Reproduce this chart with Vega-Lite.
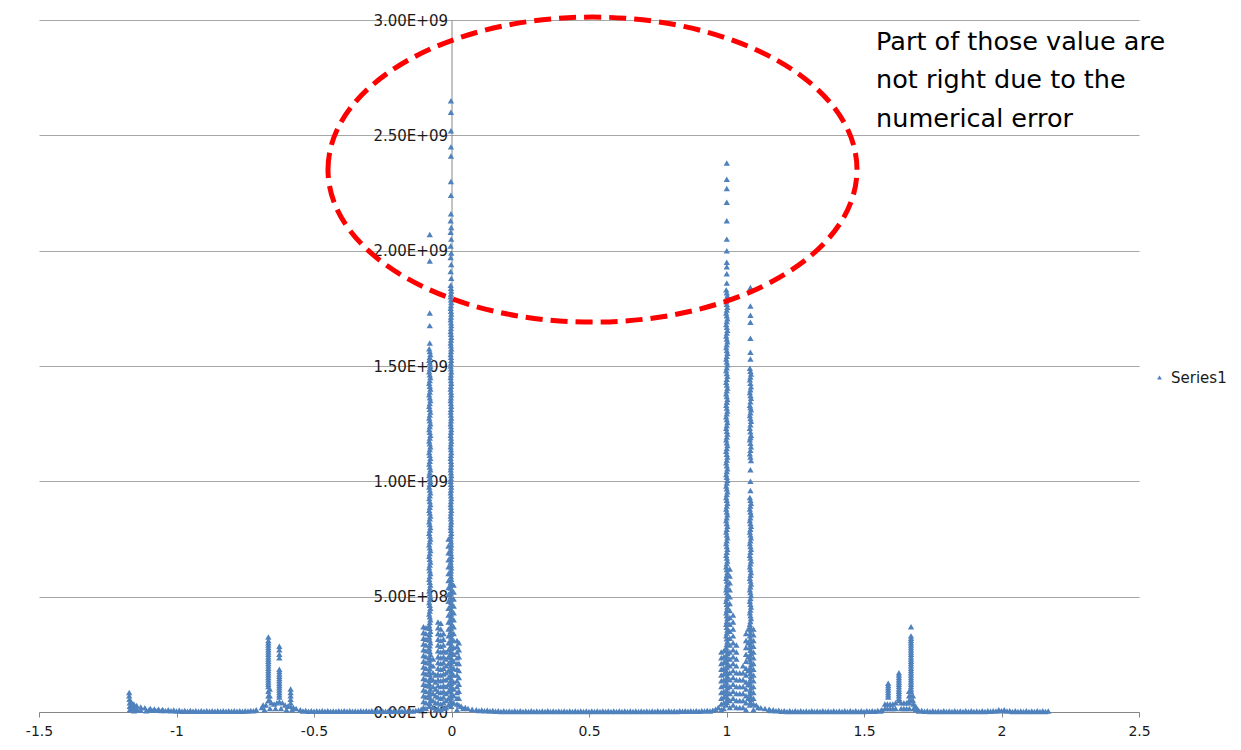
{
"$schema":"https://vega.github.io/schema/vega-lite/v6.json",
"width":1100,"height":692,
"autosize":"none",
"padding":{"left":39,"top":20,"right":102,"bottom":38},
"background":"white",
"config":{"font":"DejaVu Sans","view":{"stroke":null}},
"layer":[
{
"data":{"values":[
{"x":-1.172,"y":8.5e7},{"x":-1.172,"y":7e7},{"x":-1.171,"y":5.5e7},{"x":-1.17,"y":4e7},{"x":-1.17,"y":2.5e7},{"x":-1.17,"y":1e7},
{"x":-1.165,"y":4.5e7},{"x":-1.164,"y":3e7},{"x":-1.163,"y":1.5e7},{"x":-1.155,"y":3.5e7},{"x":-1.155,"y":2e7},{"x":-1.154,"y":5e6},
{"x":-1.145,"y":2.8e7},{"x":-1.144,"y":1.2e7},{"x":-1.13,"y":2.2e7},{"x":-1.13,"y":8e6},{"x":-1.115,"y":1.8e7},{"x":-1.11,"y":5e6},
{"x":-1.095,"y":1.5e7},{"x":-1.08,"y":1.3e7},{"x":-1.065,"y":1.2e7},{"x":-1.05,"y":1.1e7},{"x":-1.03,"y":1e7},{"x":-1.01,"y":9e6},{"x":-0.99,"y":8e6},
{"x":-1.1,"y":1e7},{"x":-1.085,"y":8e6},{"x":-1.07,"y":7e6},{"x":-1.055,"y":6e6},{"x":-1.04,"y":6e6},{"x":-1.02,"y":5e6},{"x":-1.0,"y":4e6},
{"x":-0.97,"y":7e6},{"x":-0.95,"y":7e6},{"x":-0.93,"y":6e6},{"x":-0.91,"y":6e6},{"x":-0.89,"y":6e6},{"x":-0.87,"y":5e6},{"x":-0.85,"y":5e6},
{"x":-0.83,"y":5e6},{"x":-0.81,"y":5e6},{"x":-0.79,"y":5e6},{"x":-0.77,"y":5e6},{"x":-0.75,"y":6e6},{"x":-0.73,"y":7e6},{"x":-0.71,"y":1e7},
{"x":-0.98,"y":3e6},{"x":-0.96,"y":3e6},{"x":-0.94,"y":3e6},{"x":-0.92,"y":3e6},{"x":-0.9,"y":3e6},{"x":-0.88,"y":3e6},{"x":-0.86,"y":3e6},
{"x":-0.84,"y":3e6},{"x":-0.82,"y":3e6},{"x":-0.8,"y":3e6},{"x":-0.78,"y":3e6},{"x":-0.76,"y":3e6},{"x":-0.74,"y":4e6},{"x":-0.72,"y":5e6},
{"x":-0.69,"y":2e7},{"x":-0.685,"y":3e7},{"x":-0.675,"y":3e7},{"x":-0.655,"y":4e7},{"x":-0.645,"y":3.5e7},{"x":-0.635,"y":4e7},{"x":-0.615,"y":4e7},
{"x":-0.605,"y":3e7},{"x":-0.595,"y":2.5e7},{"x":-0.575,"y":2e7},{"x":-0.565,"y":1.5e7},
{"x":-0.68,"y":1e7},{"x":-0.66,"y":1.5e7},{"x":-0.64,"y":1.5e7},{"x":-0.62,"y":1.5e7},{"x":-0.6,"y":1e7},{"x":-0.58,"y":1e7},
{"x":-0.666,"y":3.25e8},{"x":-0.666,"y":3.1e8},{"x":-0.666,"y":2.9e8},{"x":-0.666,"y":2.7e8},{"x":-0.666,"y":2.5e8},{"x":-0.666,"y":2.3e8},
{"x":-0.666,"y":2.1e8},{"x":-0.666,"y":1.9e8},{"x":-0.666,"y":1.7e8},{"x":-0.666,"y":1.5e8},{"x":-0.666,"y":1.3e8},{"x":-0.666,"y":1.1e8},
{"x":-0.666,"y":9e7},{"x":-0.666,"y":7e7},{"x":-0.666,"y":5e7},{"x":-0.661,"y":1e8},{"x":-0.661,"y":7e7},{"x":-0.661,"y":5e7},
{"x":-0.666,"y":3.0e8},{"x":-0.666,"y":2.8e8},{"x":-0.666,"y":2.6e8},{"x":-0.666,"y":2.4e8},{"x":-0.666,"y":2.2e8},{"x":-0.666,"y":2.0e8},
{"x":-0.666,"y":1.8e8},{"x":-0.666,"y":1.6e8},{"x":-0.666,"y":1.4e8},{"x":-0.666,"y":1.2e8},
{"x":-0.626,"y":2.85e8},{"x":-0.626,"y":2.7e8},{"x":-0.626,"y":2.5e8},{"x":-0.626,"y":2.35e8},{"x":-0.626,"y":1.85e8},{"x":-0.626,"y":1.65e8},
{"x":-0.626,"y":1.45e8},{"x":-0.626,"y":1.25e8},{"x":-0.626,"y":1.05e8},{"x":-0.626,"y":8.5e7},{"x":-0.626,"y":6.5e7},{"x":-0.626,"y":4.5e7},
{"x":-0.626,"y":1.75e8},{"x":-0.626,"y":1.55e8},{"x":-0.626,"y":1.35e8},{"x":-0.626,"y":1.15e8},{"x":-0.626,"y":9.5e7},{"x":-0.626,"y":7.5e7},
{"x":-0.585,"y":1e8},{"x":-0.585,"y":8.5e7},{"x":-0.585,"y":7e7},{"x":-0.585,"y":5.5e7},{"x":-0.585,"y":4e7},{"x":-0.585,"y":2.5e7},
{"x":-0.55,"y":1e7},{"x":-0.53,"y":7e6},{"x":-0.51,"y":6e6},{"x":-0.49,"y":5e6},{"x":-0.47,"y":6e6},{"x":-0.45,"y":5e6},{"x":-0.43,"y":4e6},
{"x":-0.41,"y":5e6},{"x":-0.39,"y":6e6},{"x":-0.37,"y":5e6},{"x":-0.35,"y":4e6},{"x":-0.33,"y":5e6},{"x":-0.31,"y":5e6},{"x":-0.29,"y":6e6},
{"x":-0.27,"y":5e6},{"x":-0.25,"y":4e6},{"x":-0.23,"y":5e6},{"x":-0.21,"y":5e6},{"x":-0.19,"y":6e6},{"x":-0.17,"y":5e6},{"x":-0.15,"y":6e6},
{"x":-0.13,"y":7e6},{"x":-0.12,"y":9e6},{"x":-0.11,"y":1.2e7},
{"x":-0.54,"y":4e6},{"x":-0.52,"y":3e6},{"x":-0.5,"y":3e6},{"x":-0.48,"y":3e6},{"x":-0.46,"y":3e6},{"x":-0.44,"y":3e6},{"x":-0.42,"y":3e6},
{"x":-0.4,"y":3e6},{"x":-0.38,"y":3e6},{"x":-0.36,"y":3e6},{"x":-0.34,"y":3e6},{"x":-0.32,"y":3e6},{"x":-0.3,"y":3e6},{"x":-0.28,"y":3e6},
{"x":-0.26,"y":3e6},{"x":-0.24,"y":3e6},{"x":-0.22,"y":3e6},{"x":-0.2,"y":3e6},{"x":-0.18,"y":3e6},{"x":-0.16,"y":3e6},{"x":-0.14,"y":4e6},
{"x":-0.102,"y":3.7e8},{"x":-0.102,"y":3.45e8},{"x":-0.102,"y":3.2e8},{"x":-0.102,"y":2.95e8},{"x":-0.102,"y":2.7e8},{"x":-0.102,"y":2.45e8},
{"x":-0.102,"y":2.2e8},{"x":-0.102,"y":1.95e8},{"x":-0.102,"y":1.7e8},{"x":-0.102,"y":1.45e8},{"x":-0.102,"y":1.2e8},{"x":-0.102,"y":9.5e7},
{"x":-0.102,"y":7e7},{"x":-0.102,"y":4.5e7},{"x":-0.102,"y":2e7},
{"x":-0.093,"y":3.65e8},{"x":-0.093,"y":3.4e8},{"x":-0.093,"y":3.15e8},{"x":-0.093,"y":2.9e8},{"x":-0.093,"y":2.65e8},{"x":-0.093,"y":2.4e8},
{"x":-0.093,"y":2.15e8},{"x":-0.093,"y":1.9e8},{"x":-0.093,"y":1.65e8},{"x":-0.093,"y":1.4e8},{"x":-0.093,"y":1.15e8},{"x":-0.093,"y":9e7},
{"x":-0.093,"y":6.5e7},{"x":-0.093,"y":4e7},{"x":-0.093,"y":1.5e7},
{"x":-0.079,"y":2.07e9},{"x":-0.079,"y":1.955e9},{"x":-0.079,"y":1.73e9},{"x":-0.079,"y":1.675e9},{"x":-0.079,"y":1.6e9},
{"x":-0.081,"y":1.575e9},{"x":-0.077,"y":1.55e9},{"x":-0.081,"y":1.525e9},{"x":-0.077,"y":1.5e9},{"x":-0.081,"y":1.475e9},{"x":-0.077,"y":1.45e9},
{"x":-0.081,"y":1.425e9},{"x":-0.077,"y":1.4e9},{"x":-0.081,"y":1.375e9},{"x":-0.077,"y":1.35e9},{"x":-0.081,"y":1.325e9},{"x":-0.077,"y":1.3e9},
{"x":-0.081,"y":1.275e9},{"x":-0.077,"y":1.25e9},{"x":-0.081,"y":1.225e9},{"x":-0.077,"y":1.2e9},{"x":-0.081,"y":1.175e9},{"x":-0.077,"y":1.15e9},
{"x":-0.081,"y":1.125e9},{"x":-0.077,"y":1.1e9},{"x":-0.081,"y":1.075e9},{"x":-0.077,"y":1.05e9},{"x":-0.081,"y":1.025e9},{"x":-0.077,"y":1e9},
{"x":-0.081,"y":9.75e8},{"x":-0.077,"y":9.5e8},{"x":-0.081,"y":9.25e8},{"x":-0.077,"y":9e8},{"x":-0.081,"y":8.75e8},{"x":-0.077,"y":8.5e8},
{"x":-0.081,"y":8.25e8},{"x":-0.077,"y":8e8},{"x":-0.081,"y":7.75e8},{"x":-0.077,"y":7.5e8},{"x":-0.081,"y":7.25e8},{"x":-0.077,"y":7e8},
{"x":-0.081,"y":6.75e8},{"x":-0.077,"y":6.5e8},{"x":-0.081,"y":6.25e8},{"x":-0.077,"y":6e8},{"x":-0.081,"y":5.75e8},{"x":-0.077,"y":5.5e8},
{"x":-0.081,"y":5.25e8},{"x":-0.077,"y":5e8},{"x":-0.081,"y":4.75e8},{"x":-0.077,"y":4.5e8},{"x":-0.081,"y":4.25e8},{"x":-0.077,"y":4e8},
{"x":-0.081,"y":3.75e8},{"x":-0.077,"y":3.5e8},{"x":-0.081,"y":3.25e8},{"x":-0.077,"y":3e8},{"x":-0.081,"y":2.75e8},{"x":-0.077,"y":2.5e8},
{"x":-0.081,"y":2.25e8},{"x":-0.077,"y":2e8},{"x":-0.081,"y":1.75e8},{"x":-0.077,"y":1.5e8},{"x":-0.081,"y":1.25e8},{"x":-0.077,"y":1e8},
{"x":-0.081,"y":7.5e7},{"x":-0.077,"y":5e7},{"x":-0.081,"y":2.5e7},
{"x":-0.079,"y":1.5625e9},{"x":-0.079,"y":1.5375e9},{"x":-0.079,"y":1.5125e9},{"x":-0.079,"y":1.4875e9},{"x":-0.079,"y":1.4625e9},{"x":-0.079,"y":1.4375e9},
{"x":-0.079,"y":1.4125e9},{"x":-0.079,"y":1.3875e9},{"x":-0.079,"y":1.3625e9},{"x":-0.079,"y":1.3375e9},{"x":-0.079,"y":1.3125e9},{"x":-0.079,"y":1.2875e9},
{"x":-0.079,"y":1.2625e9},{"x":-0.079,"y":1.2375e9},{"x":-0.079,"y":1.2125e9},{"x":-0.079,"y":1.1875e9},{"x":-0.079,"y":1.1625e9},{"x":-0.079,"y":1.1375e9},
{"x":-0.079,"y":1.1125e9},{"x":-0.079,"y":1.0875e9},{"x":-0.079,"y":1.0625e9},{"x":-0.079,"y":1.0375e9},{"x":-0.079,"y":1.0125e9},{"x":-0.079,"y":0.9875e9},
{"x":-0.079,"y":0.9625e9},{"x":-0.079,"y":0.9375e9},{"x":-0.079,"y":0.9125e9},{"x":-0.079,"y":0.8875e9},{"x":-0.079,"y":0.8625e9},{"x":-0.079,"y":0.8375e9},
{"x":-0.079,"y":0.8125e9},{"x":-0.079,"y":0.7875e9},{"x":-0.079,"y":0.7625e9},{"x":-0.079,"y":0.7375e9},{"x":-0.079,"y":0.7125e9},{"x":-0.079,"y":0.6875e9},
{"x":-0.079,"y":0.6625e9},{"x":-0.079,"y":0.6375e9},{"x":-0.079,"y":0.6125e9},{"x":-0.079,"y":0.5875e9},{"x":-0.079,"y":0.5625e9},{"x":-0.079,"y":0.5375e9},
{"x":-0.079,"y":0.5125e9},{"x":-0.079,"y":0.4875e9},{"x":-0.079,"y":0.4625e9},{"x":-0.079,"y":0.4375e9},{"x":-0.079,"y":0.4125e9},{"x":-0.079,"y":0.3875e9},
{"x":-0.079,"y":0.3625e9},{"x":-0.079,"y":0.3375e9},{"x":-0.079,"y":0.3125e9},{"x":-0.079,"y":0.2875e9},{"x":-0.079,"y":0.2625e9},{"x":-0.079,"y":0.2375e9},
{"x":-0.079,"y":0.2125e9},{"x":-0.079,"y":0.1875e9},{"x":-0.079,"y":0.1625e9},{"x":-0.079,"y":0.1375e9},{"x":-0.079,"y":0.1125e9},{"x":-0.079,"y":0.0875e9},
{"x":-0.079,"y":0.0625e9},{"x":-0.079,"y":0.0375e9},
{"x":-0.067,"y":2.3e8},{"x":-0.067,"y":2e8},{"x":-0.067,"y":1.7e8},{"x":-0.067,"y":1.4e8},{"x":-0.067,"y":1.1e8},{"x":-0.067,"y":8e7},
{"x":-0.067,"y":5e7},{"x":-0.067,"y":2e7},{"x":-0.058,"y":1.6e8},{"x":-0.058,"y":1.3e8},{"x":-0.058,"y":1e8},{"x":-0.058,"y":7e7},
{"x":-0.058,"y":4e7},{"x":-0.058,"y":1e7},
{"x":-0.049,"y":3.9e8},{"x":-0.049,"y":3.65e8},{"x":-0.049,"y":3.4e8},{"x":-0.049,"y":3.15e8},{"x":-0.049,"y":2.9e8},{"x":-0.049,"y":2.65e8},
{"x":-0.049,"y":2.4e8},{"x":-0.049,"y":2.15e8},{"x":-0.049,"y":1.9e8},{"x":-0.049,"y":1.65e8},{"x":-0.049,"y":1.4e8},{"x":-0.049,"y":1.15e8},
{"x":-0.049,"y":9e7},{"x":-0.049,"y":6.5e7},{"x":-0.049,"y":4e7},{"x":-0.049,"y":1.5e7},
{"x":-0.039,"y":3.85e8},{"x":-0.039,"y":3.6e8},{"x":-0.039,"y":3.35e8},{"x":-0.039,"y":3.1e8},{"x":-0.039,"y":2.85e8},{"x":-0.039,"y":2.6e8},
{"x":-0.039,"y":2.35e8},{"x":-0.039,"y":2.1e8},{"x":-0.039,"y":1.85e8},{"x":-0.039,"y":1.6e8},{"x":-0.039,"y":1.35e8},{"x":-0.039,"y":1.1e8},
{"x":-0.039,"y":8.5e7},{"x":-0.039,"y":6e7},{"x":-0.039,"y":3.5e7},{"x":-0.039,"y":1e7},
{"x":-0.029,"y":3.4e8},{"x":-0.029,"y":3.15e8},{"x":-0.029,"y":2.9e8},{"x":-0.029,"y":2.65e8},{"x":-0.029,"y":2.4e8},{"x":-0.029,"y":2.15e8},
{"x":-0.029,"y":1.9e8},{"x":-0.029,"y":1.65e8},{"x":-0.029,"y":1.4e8},{"x":-0.029,"y":1.15e8},{"x":-0.029,"y":9e7},{"x":-0.029,"y":6.5e7},
{"x":-0.029,"y":4e7},{"x":-0.029,"y":1.5e7},
{"x":-0.02,"y":2.6e8},{"x":-0.02,"y":2.3e8},{"x":-0.02,"y":2e8},{"x":-0.02,"y":1.7e8},{"x":-0.02,"y":1.4e8},{"x":-0.02,"y":1.1e8},
{"x":-0.02,"y":8e7},{"x":-0.02,"y":5e7},{"x":-0.02,"y":2e7},
{"x":-0.002,"y":2.65e9},{"x":-0.002,"y":2.6e9},{"x":-0.002,"y":2.52e9},{"x":-0.002,"y":2.45e9},{"x":-0.002,"y":2.41e9},{"x":-0.002,"y":2.3e9},
{"x":-0.002,"y":2.24e9},{"x":-0.002,"y":2.16e9},
{"x":-0.003,"y":2.13e9},{"x":-0.001,"y":2.1e9},{"x":-0.003,"y":2.08e9},{"x":-0.001,"y":2.05e9},{"x":-0.003,"y":2.02e9},{"x":-0.001,"y":1.99e9},
{"x":-0.003,"y":1.97e9},{"x":-0.001,"y":1.94e9},{"x":-0.003,"y":1.91e9},{"x":-0.001,"y":1.88e9},
{"x":-0.003,"y":1.85e9},{"x":-0.001,"y":1.825e9},{"x":-0.003,"y":1.8e9},{"x":-0.001,"y":1.775e9},{"x":-0.003,"y":1.75e9},{"x":-0.001,"y":1.725e9},
{"x":-0.003,"y":1.7e9},{"x":-0.001,"y":1.675e9},{"x":-0.003,"y":1.65e9},{"x":-0.001,"y":1.625e9},{"x":-0.003,"y":1.6e9},{"x":-0.001,"y":1.575e9},
{"x":-0.003,"y":1.55e9},{"x":-0.001,"y":1.525e9},{"x":-0.003,"y":1.5e9},{"x":-0.001,"y":1.475e9},{"x":-0.003,"y":1.45e9},{"x":-0.001,"y":1.425e9},
{"x":-0.003,"y":1.4e9},{"x":-0.001,"y":1.375e9},{"x":-0.003,"y":1.35e9},{"x":-0.001,"y":1.325e9},{"x":-0.003,"y":1.3e9},{"x":-0.001,"y":1.275e9},
{"x":-0.003,"y":1.25e9},{"x":-0.001,"y":1.225e9},{"x":-0.003,"y":1.2e9},{"x":-0.001,"y":1.175e9},{"x":-0.003,"y":1.15e9},{"x":-0.001,"y":1.125e9},
{"x":-0.003,"y":1.1e9},{"x":-0.001,"y":1.075e9},{"x":-0.003,"y":1.05e9},{"x":-0.001,"y":1.025e9},{"x":-0.003,"y":1e9},{"x":-0.001,"y":9.75e8},
{"x":-0.003,"y":9.5e8},{"x":-0.001,"y":9.25e8},{"x":-0.003,"y":9e8},{"x":-0.001,"y":8.75e8},{"x":-0.003,"y":8.5e8},{"x":-0.001,"y":8.25e8},
{"x":-0.003,"y":8e8},{"x":-0.001,"y":7.75e8},{"x":-0.003,"y":7.5e8},{"x":-0.001,"y":7.25e8},{"x":-0.003,"y":7e8},{"x":-0.001,"y":6.75e8},
{"x":-0.003,"y":6.5e8},{"x":-0.001,"y":6.25e8},{"x":-0.003,"y":6e8},{"x":-0.001,"y":5.75e8},{"x":-0.003,"y":5.5e8},{"x":-0.001,"y":5.25e8},
{"x":-0.003,"y":5e8},{"x":-0.001,"y":4.75e8},{"x":-0.003,"y":4.5e8},{"x":-0.001,"y":4.25e8},{"x":-0.003,"y":4e8},{"x":-0.001,"y":3.75e8},
{"x":-0.003,"y":3.5e8},{"x":-0.001,"y":3.25e8},{"x":-0.003,"y":3e8},{"x":-0.001,"y":2.75e8},{"x":-0.003,"y":2.5e8},{"x":-0.001,"y":2.25e8},
{"x":-0.003,"y":2e8},{"x":-0.001,"y":1.75e8},{"x":-0.003,"y":1.5e8},{"x":-0.001,"y":1.25e8},{"x":-0.003,"y":1e8},{"x":-0.001,"y":7.5e7},
{"x":-0.003,"y":5e7},{"x":-0.001,"y":2.5e7},
{"x":-0.002,"y":1.8375e9},{"x":-0.002,"y":1.8125e9},{"x":-0.002,"y":1.7875e9},{"x":-0.002,"y":1.7625e9},{"x":-0.002,"y":1.7375e9},{"x":-0.002,"y":1.7125e9},
{"x":-0.002,"y":1.6875e9},{"x":-0.002,"y":1.6625e9},{"x":-0.002,"y":1.6375e9},{"x":-0.002,"y":1.6125e9},{"x":-0.002,"y":1.5875e9},{"x":-0.002,"y":1.5625e9},
{"x":-0.002,"y":1.5375e9},{"x":-0.002,"y":1.5125e9},{"x":-0.002,"y":1.4875e9},{"x":-0.002,"y":1.4625e9},{"x":-0.002,"y":1.4375e9},{"x":-0.002,"y":1.4125e9},
{"x":-0.002,"y":1.3875e9},{"x":-0.002,"y":1.3625e9},{"x":-0.002,"y":1.3375e9},{"x":-0.002,"y":1.3125e9},{"x":-0.002,"y":1.2875e9},{"x":-0.002,"y":1.2625e9},
{"x":-0.002,"y":1.2375e9},{"x":-0.002,"y":1.2125e9},{"x":-0.002,"y":1.1875e9},{"x":-0.002,"y":1.1625e9},{"x":-0.002,"y":1.1375e9},{"x":-0.002,"y":1.1125e9},
{"x":-0.002,"y":1.0875e9},{"x":-0.002,"y":1.0625e9},{"x":-0.002,"y":1.0375e9},{"x":-0.002,"y":1.0125e9},{"x":-0.002,"y":0.9875e9},{"x":-0.002,"y":0.9625e9},
{"x":-0.002,"y":0.9375e9},{"x":-0.002,"y":0.9125e9},{"x":-0.002,"y":0.8875e9},{"x":-0.002,"y":0.8625e9},{"x":-0.002,"y":0.8375e9},{"x":-0.002,"y":0.8125e9},
{"x":-0.002,"y":0.7875e9},{"x":-0.002,"y":0.7625e9},{"x":-0.002,"y":0.7375e9},{"x":-0.002,"y":0.7125e9},{"x":-0.002,"y":0.6875e9},{"x":-0.002,"y":0.6625e9},
{"x":-0.002,"y":0.6375e9},{"x":-0.002,"y":0.6125e9},{"x":-0.002,"y":0.5875e9},{"x":-0.002,"y":0.5625e9},{"x":-0.002,"y":0.5375e9},{"x":-0.002,"y":0.5125e9},
{"x":-0.002,"y":0.4875e9},{"x":-0.002,"y":0.4625e9},{"x":-0.002,"y":0.4375e9},{"x":-0.002,"y":0.4125e9},{"x":-0.002,"y":0.3875e9},{"x":-0.002,"y":0.3625e9},
{"x":-0.002,"y":0.3375e9},{"x":-0.002,"y":0.3125e9},{"x":-0.002,"y":0.2875e9},{"x":-0.002,"y":0.2625e9},{"x":-0.002,"y":0.2375e9},{"x":-0.002,"y":0.2125e9},
{"x":-0.002,"y":0.1875e9},{"x":-0.002,"y":0.1625e9},{"x":-0.002,"y":0.1375e9},{"x":-0.002,"y":0.1125e9},{"x":-0.002,"y":0.0875e9},{"x":-0.002,"y":0.0625e9},
{"x":-0.002,"y":0.0375e9},
{"x":-0.011,"y":7.5e8},{"x":-0.011,"y":7.2e8},{"x":-0.011,"y":6.9e8},{"x":-0.011,"y":6.6e8},{"x":-0.011,"y":6.3e8},{"x":-0.011,"y":6e8},
{"x":-0.011,"y":5.7e8},{"x":-0.011,"y":5.4e8},{"x":-0.011,"y":5.1e8},{"x":-0.011,"y":4.8e8},{"x":-0.011,"y":4.5e8},{"x":-0.011,"y":4.2e8},
{"x":-0.011,"y":3.9e8},{"x":-0.011,"y":3.6e8},{"x":-0.011,"y":3.3e8},{"x":-0.011,"y":3e8},{"x":-0.011,"y":2.7e8},{"x":-0.011,"y":2.4e8},
{"x":-0.011,"y":2.1e8},{"x":-0.011,"y":1.8e8},{"x":-0.011,"y":1.5e8},{"x":-0.011,"y":1.2e8},{"x":-0.011,"y":9e7},{"x":-0.011,"y":6e7},
{"x":-0.011,"y":3e7},
{"x":0.008,"y":5.5e8},{"x":0.008,"y":5.2e8},{"x":0.008,"y":4.9e8},{"x":0.008,"y":4.6e8},{"x":0.008,"y":4.3e8},{"x":0.008,"y":4e8},
{"x":0.008,"y":3.7e8},{"x":0.008,"y":3.4e8},{"x":0.008,"y":3.1e8},{"x":0.008,"y":2.8e8},{"x":0.008,"y":2.5e8},{"x":0.008,"y":2.2e8},
{"x":0.008,"y":1.9e8},{"x":0.008,"y":1.6e8},{"x":0.008,"y":1.3e8},{"x":0.008,"y":1e8},{"x":0.008,"y":7e7},{"x":0.008,"y":4e7},
{"x":0.02,"y":3.1e8},{"x":0.02,"y":2.85e8},{"x":0.02,"y":2.6e8},{"x":0.02,"y":2.35e8},{"x":0.02,"y":2.1e8},{"x":0.02,"y":1.85e8},
{"x":0.02,"y":1.6e8},{"x":0.02,"y":1.35e8},{"x":0.02,"y":1.1e8},{"x":0.02,"y":8.5e7},{"x":0.02,"y":6e7},{"x":0.02,"y":3.5e7},{"x":0.02,"y":1e7},
{"x":0.027,"y":3e8},{"x":0.027,"y":2.7e8},{"x":0.027,"y":2.4e8},{"x":0.027,"y":2.1e8},{"x":0.027,"y":1.8e8},{"x":0.027,"y":1.5e8},
{"x":0.027,"y":1.2e8},{"x":0.027,"y":9e7},{"x":0.027,"y":6e7},{"x":0.027,"y":3e7},
{"x":0.035,"y":2.5e7},{"x":0.042,"y":1.5e7},{"x":0.05,"y":2e7},{"x":0.06,"y":1.5e7},{"x":0.075,"y":1.2e7},{"x":0.09,"y":1e7},{"x":0.11,"y":9e6},
{"x":0.13,"y":8e6},{"x":0.15,"y":7e6},{"x":0.17,"y":5e6},{"x":0.19,"y":5e6},{"x":0.21,"y":4e6},{"x":0.23,"y":5e6},{"x":0.25,"y":5e6},
{"x":0.27,"y":4e6},{"x":0.29,"y":5e6},{"x":0.31,"y":4e6},{"x":0.33,"y":4e6},{"x":0.35,"y":5e6},{"x":0.37,"y":4e6},{"x":0.39,"y":4e6},
{"x":0.41,"y":4e6},{"x":0.43,"y":4e6},{"x":0.45,"y":4e6},{"x":0.47,"y":4e6},{"x":0.49,"y":4e6},{"x":0.51,"y":4e6},{"x":0.53,"y":4e6},
{"x":0.55,"y":4e6},{"x":0.57,"y":4e6},{"x":0.59,"y":4e6},{"x":0.61,"y":4e6},{"x":0.63,"y":4e6},{"x":0.65,"y":4e6},{"x":0.67,"y":4e6},
{"x":0.69,"y":4e6},{"x":0.71,"y":4e6},{"x":0.73,"y":4e6},{"x":0.75,"y":5e6},{"x":0.77,"y":4e6},{"x":0.79,"y":5e6},{"x":0.81,"y":4e6},
{"x":0.83,"y":5e6},{"x":0.85,"y":5e6},{"x":0.87,"y":5e6},{"x":0.89,"y":6e6},{"x":0.91,"y":6e6},{"x":0.93,"y":7e6},{"x":0.95,"y":8e6},
{"x":0.96,"y":1.2e7},{"x":0.97,"y":2e7},
{"x":0.1,"y":6e6},{"x":0.12,"y":5e6},{"x":0.14,"y":4e6},{"x":0.16,"y":3e6},{"x":0.18,"y":2e6},{"x":0.2,"y":2e6},{"x":0.22,"y":2e6},
{"x":0.24,"y":2e6},{"x":0.26,"y":2e6},{"x":0.28,"y":2e6},{"x":0.3,"y":2e6},{"x":0.32,"y":2e6},{"x":0.34,"y":2e6},{"x":0.36,"y":2e6},
{"x":0.38,"y":2e6},{"x":0.4,"y":2e6},{"x":0.42,"y":2e6},{"x":0.44,"y":2e6},{"x":0.46,"y":2e6},{"x":0.48,"y":2e6},{"x":0.5,"y":2e6},
{"x":0.52,"y":2e6},{"x":0.54,"y":2e6},{"x":0.56,"y":2e6},{"x":0.58,"y":2e6},{"x":0.6,"y":2e6},{"x":0.62,"y":2e6},{"x":0.64,"y":2e6},
{"x":0.66,"y":2e6},{"x":0.68,"y":2e6},{"x":0.7,"y":2e6},{"x":0.72,"y":2e6},{"x":0.74,"y":2e6},{"x":0.76,"y":2e6},{"x":0.78,"y":2e6},
{"x":0.8,"y":2e6},{"x":0.82,"y":2e6},{"x":0.84,"y":3e6},{"x":0.86,"y":3e6},{"x":0.88,"y":3e6},{"x":0.9,"y":3e6},{"x":0.92,"y":4e6},{"x":0.94,"y":4e6},
{"x":0.981,"y":2.6e8},{"x":0.981,"y":2.35e8},{"x":0.981,"y":2.1e8},{"x":0.981,"y":1.85e8},{"x":0.981,"y":1.6e8},{"x":0.981,"y":1.35e8},
{"x":0.981,"y":1.1e8},{"x":0.981,"y":8.5e7},{"x":0.981,"y":6e7},{"x":0.981,"y":3.5e7},{"x":0.981,"y":1e7},
{"x":0.99,"y":2.65e8},{"x":0.99,"y":2.4e8},{"x":0.99,"y":2.15e8},{"x":0.99,"y":1.9e8},{"x":0.99,"y":1.65e8},{"x":0.99,"y":1.4e8},
{"x":0.99,"y":1.15e8},{"x":0.99,"y":9e7},{"x":0.99,"y":6.5e7},{"x":0.99,"y":4e7},{"x":0.99,"y":1.5e7},
{"x":1.001,"y":2.38e9},{"x":1.001,"y":2.31e9},{"x":1.001,"y":2.27e9},{"x":1.001,"y":2.21e9},{"x":1.001,"y":2.13e9},{"x":1.001,"y":2.05e9},
{"x":1.001,"y":2e9},{"x":1.001,"y":1.95e9},{"x":1.001,"y":1.93e9},{"x":1.001,"y":1.9e9},{"x":1.001,"y":1.86e9},
{"x":0.999,"y":1.83e9},{"x":1.003,"y":1.805e9},{"x":0.999,"y":1.78e9},{"x":1.003,"y":1.755e9},{"x":0.999,"y":1.73e9},{"x":1.003,"y":1.705e9},
{"x":0.999,"y":1.68e9},{"x":1.003,"y":1.655e9},{"x":0.999,"y":1.63e9},{"x":1.003,"y":1.605e9},{"x":0.999,"y":1.58e9},{"x":1.003,"y":1.555e9},
{"x":0.999,"y":1.53e9},{"x":1.003,"y":1.505e9},{"x":0.999,"y":1.48e9},{"x":1.003,"y":1.455e9},{"x":0.999,"y":1.43e9},{"x":1.003,"y":1.405e9},
{"x":0.999,"y":1.38e9},{"x":1.003,"y":1.355e9},{"x":0.999,"y":1.33e9},{"x":1.003,"y":1.305e9},{"x":0.999,"y":1.28e9},{"x":1.003,"y":1.255e9},
{"x":0.999,"y":1.23e9},{"x":1.003,"y":1.205e9},{"x":0.999,"y":1.18e9},{"x":1.003,"y":1.155e9},{"x":0.999,"y":1.13e9},{"x":1.003,"y":1.105e9},
{"x":0.999,"y":1.08e9},{"x":1.003,"y":1.055e9},{"x":0.999,"y":1.03e9},{"x":1.003,"y":1.005e9},{"x":0.999,"y":9.8e8},{"x":1.003,"y":9.55e8},
{"x":0.999,"y":9.3e8},{"x":1.003,"y":9.05e8},{"x":0.999,"y":8.8e8},{"x":1.003,"y":8.55e8},{"x":0.999,"y":8.3e8},{"x":1.003,"y":8.05e8},
{"x":0.999,"y":7.8e8},{"x":1.003,"y":7.55e8},{"x":0.999,"y":7.3e8},{"x":1.003,"y":7.05e8},{"x":0.999,"y":6.8e8},{"x":1.003,"y":6.55e8},
{"x":0.999,"y":6.3e8},{"x":1.003,"y":6.05e8},{"x":0.999,"y":5.8e8},{"x":1.003,"y":5.55e8},{"x":0.999,"y":5.3e8},{"x":1.003,"y":5.05e8},
{"x":0.999,"y":4.8e8},{"x":1.003,"y":4.55e8},{"x":0.999,"y":4.3e8},{"x":1.003,"y":4.05e8},{"x":0.999,"y":3.8e8},{"x":1.003,"y":3.55e8},
{"x":0.999,"y":3.3e8},{"x":1.003,"y":3.05e8},{"x":0.999,"y":2.8e8},{"x":1.003,"y":2.55e8},{"x":0.999,"y":2.3e8},{"x":1.003,"y":2.05e8},
{"x":0.999,"y":1.8e8},{"x":1.003,"y":1.55e8},{"x":0.999,"y":1.3e8},{"x":1.003,"y":1.05e8},{"x":0.999,"y":8e7},{"x":1.003,"y":5.5e7},
{"x":0.999,"y":3e7},
{"x":1.001,"y":1.8175e9},{"x":1.001,"y":1.7925e9},{"x":1.001,"y":1.7675e9},{"x":1.001,"y":1.7425e9},{"x":1.001,"y":1.7175e9},{"x":1.001,"y":1.6925e9},
{"x":1.001,"y":1.6675e9},{"x":1.001,"y":1.6425e9},{"x":1.001,"y":1.6175e9},{"x":1.001,"y":1.5925e9},{"x":1.001,"y":1.5675e9},{"x":1.001,"y":1.5425e9},
{"x":1.001,"y":1.5175e9},{"x":1.001,"y":1.4925e9},{"x":1.001,"y":1.4675e9},{"x":1.001,"y":1.4425e9},{"x":1.001,"y":1.4175e9},{"x":1.001,"y":1.3925e9},
{"x":1.001,"y":1.3675e9},{"x":1.001,"y":1.3425e9},{"x":1.001,"y":1.3175e9},{"x":1.001,"y":1.2925e9},{"x":1.001,"y":1.2675e9},{"x":1.001,"y":1.2425e9},
{"x":1.001,"y":1.2175e9},{"x":1.001,"y":1.1925e9},{"x":1.001,"y":1.1675e9},{"x":1.001,"y":1.1425e9},{"x":1.001,"y":1.1175e9},{"x":1.001,"y":1.0925e9},
{"x":1.001,"y":1.0675e9},{"x":1.001,"y":1.0425e9},{"x":1.001,"y":1.0175e9},{"x":1.001,"y":0.9925e9},{"x":1.001,"y":0.9675e9},{"x":1.001,"y":0.9425e9},
{"x":1.001,"y":0.9175e9},{"x":1.001,"y":0.8925e9},{"x":1.001,"y":0.8675e9},{"x":1.001,"y":0.8425e9},{"x":1.001,"y":0.8175e9},{"x":1.001,"y":0.7925e9},
{"x":1.001,"y":0.7675e9},{"x":1.001,"y":0.7425e9},{"x":1.001,"y":0.7175e9},{"x":1.001,"y":0.6925e9},{"x":1.001,"y":0.6675e9},{"x":1.001,"y":0.6425e9},
{"x":1.001,"y":0.6175e9},{"x":1.001,"y":0.5925e9},{"x":1.001,"y":0.5675e9},{"x":1.001,"y":0.5425e9},{"x":1.001,"y":0.5175e9},{"x":1.001,"y":0.4925e9},
{"x":1.001,"y":0.4675e9},{"x":1.001,"y":0.4425e9},{"x":1.001,"y":0.4175e9},{"x":1.001,"y":0.3925e9},{"x":1.001,"y":0.3675e9},{"x":1.001,"y":0.3425e9},
{"x":1.001,"y":0.3175e9},{"x":1.001,"y":0.2925e9},{"x":1.001,"y":0.2675e9},{"x":1.001,"y":0.2425e9},{"x":1.001,"y":0.2175e9},{"x":1.001,"y":0.1925e9},
{"x":1.001,"y":0.1675e9},{"x":1.001,"y":0.1425e9},{"x":1.001,"y":0.1175e9},{"x":1.001,"y":0.0925e9},{"x":1.001,"y":0.0675e9},{"x":1.001,"y":0.0425e9},
{"x":1.012,"y":6.2e8},{"x":1.012,"y":5.9e8},{"x":1.012,"y":5.6e8},{"x":1.012,"y":5.3e8},{"x":1.012,"y":5e8},{"x":1.012,"y":4.7e8},
{"x":1.012,"y":4.4e8},{"x":1.012,"y":4.1e8},{"x":1.012,"y":3.8e8},{"x":1.012,"y":3.5e8},{"x":1.012,"y":3.2e8},{"x":1.012,"y":2.9e8},
{"x":1.012,"y":2.6e8},{"x":1.012,"y":2.3e8},{"x":1.012,"y":2e8},{"x":1.012,"y":1.7e8},{"x":1.012,"y":1.4e8},{"x":1.012,"y":1.1e8},
{"x":1.012,"y":8e7},{"x":1.012,"y":5e7},{"x":1.012,"y":2e7},
{"x":1.024,"y":4.2e8},{"x":1.024,"y":3.9e8},{"x":1.024,"y":3.6e8},{"x":1.024,"y":3.3e8},{"x":1.024,"y":3e8},{"x":1.024,"y":2.7e8},
{"x":1.024,"y":2.4e8},{"x":1.024,"y":2.1e8},{"x":1.024,"y":1.8e8},{"x":1.024,"y":1.5e8},{"x":1.024,"y":1.2e8},{"x":1.024,"y":9e7},
{"x":1.024,"y":6e7},{"x":1.024,"y":3e7},
{"x":1.036,"y":2.9e8},{"x":1.036,"y":2.6e8},{"x":1.036,"y":2.3e8},{"x":1.036,"y":2e8},{"x":1.036,"y":1.7e8},{"x":1.036,"y":1.4e8},
{"x":1.036,"y":1.1e8},{"x":1.036,"y":8e7},{"x":1.036,"y":5e7},{"x":1.036,"y":2e7},
{"x":1.048,"y":1.7e8},{"x":1.048,"y":1.4e8},{"x":1.048,"y":1.1e8},{"x":1.048,"y":8e7},{"x":1.048,"y":5e7},{"x":1.048,"y":2e7},
{"x":1.06,"y":2e8},{"x":1.06,"y":1.7e8},{"x":1.06,"y":1.4e8},{"x":1.06,"y":1.1e8},{"x":1.06,"y":8e7},{"x":1.06,"y":5e7},{"x":1.06,"y":2e7},
{"x":1.071,"y":3.4e8},{"x":1.071,"y":3.1e8},{"x":1.071,"y":2.8e8},{"x":1.071,"y":2.5e8},{"x":1.071,"y":2.2e8},{"x":1.071,"y":1.9e8},
{"x":1.071,"y":1.6e8},{"x":1.071,"y":1.3e8},{"x":1.071,"y":1e8},{"x":1.071,"y":7e7},{"x":1.071,"y":4e7},{"x":1.071,"y":1e7},
{"x":1.079,"y":3.6e8},{"x":1.079,"y":3e8},{"x":1.079,"y":2.4e8},{"x":1.079,"y":1.8e8},{"x":1.079,"y":1.2e8},{"x":1.079,"y":6e7},
{"x":1.087,"y":1.84e9},{"x":1.087,"y":1.76e9},{"x":1.087,"y":1.72e9},{"x":1.087,"y":1.69e9},{"x":1.087,"y":1.62e9},{"x":1.087,"y":1.56e9},
{"x":1.087,"y":1.53e9},
{"x":1.085,"y":1.49e9},{"x":1.089,"y":1.465e9},{"x":1.085,"y":1.44e9},{"x":1.089,"y":1.41e9},{"x":1.085,"y":1.385e9},{"x":1.089,"y":1.36e9},
{"x":1.085,"y":1.33e9},{"x":1.089,"y":1.31e9},{"x":1.085,"y":1.285e9},{"x":1.089,"y":1.26e9},{"x":1.085,"y":1.23e9},{"x":1.089,"y":1.2e9},
{"x":1.085,"y":1.18e9},{"x":1.089,"y":1.15e9},{"x":1.085,"y":1.12e9},{"x":1.089,"y":1.09e9},
{"x":1.087,"y":1.4775e9},{"x":1.087,"y":1.4525e9},{"x":1.087,"y":1.425e9},{"x":1.087,"y":1.3975e9},{"x":1.087,"y":1.3725e9},{"x":1.087,"y":1.345e9},
{"x":1.087,"y":1.32e9},{"x":1.087,"y":1.2975e9},{"x":1.087,"y":1.2725e9},{"x":1.087,"y":1.245e9},{"x":1.087,"y":1.215e9},{"x":1.087,"y":1.19e9},
{"x":1.087,"y":1.165e9},{"x":1.087,"y":1.135e9},{"x":1.087,"y":1.105e9},
{"x":1.087,"y":1.05e9},{"x":1.087,"y":1e9},{"x":1.087,"y":9.6e8},
{"x":1.085,"y":9.3e8},{"x":1.089,"y":9.05e8},{"x":1.085,"y":8.8e8},{"x":1.089,"y":8.55e8},{"x":1.085,"y":8.3e8},{"x":1.089,"y":8.05e8},
{"x":1.085,"y":7.8e8},{"x":1.089,"y":7.55e8},{"x":1.085,"y":7.3e8},{"x":1.089,"y":7.05e8},{"x":1.085,"y":6.8e8},{"x":1.089,"y":6.55e8},
{"x":1.085,"y":6.3e8},{"x":1.089,"y":6.05e8},{"x":1.085,"y":5.8e8},{"x":1.089,"y":5.55e8},{"x":1.085,"y":5.3e8},{"x":1.089,"y":5.05e8},
{"x":1.085,"y":4.8e8},{"x":1.089,"y":4.55e8},{"x":1.085,"y":4.3e8},{"x":1.089,"y":4.05e8},{"x":1.085,"y":3.8e8},{"x":1.089,"y":3.55e8},
{"x":1.085,"y":3.3e8},{"x":1.089,"y":3.05e8},{"x":1.085,"y":2.8e8},{"x":1.089,"y":2.55e8},{"x":1.085,"y":2.3e8},{"x":1.089,"y":2.05e8},
{"x":1.085,"y":1.8e8},{"x":1.089,"y":1.55e8},{"x":1.085,"y":1.3e8},{"x":1.089,"y":1.05e8},{"x":1.085,"y":8e7},{"x":1.089,"y":5.5e7},
{"x":1.085,"y":3e7},
{"x":1.087,"y":0.9175e9},{"x":1.087,"y":0.8925e9},{"x":1.087,"y":0.8675e9},{"x":1.087,"y":0.8425e9},{"x":1.087,"y":0.8175e9},{"x":1.087,"y":0.7925e9},
{"x":1.087,"y":0.7675e9},{"x":1.087,"y":0.7425e9},{"x":1.087,"y":0.7175e9},{"x":1.087,"y":0.6925e9},{"x":1.087,"y":0.6675e9},{"x":1.087,"y":0.6425e9},
{"x":1.087,"y":0.6175e9},{"x":1.087,"y":0.5925e9},{"x":1.087,"y":0.5675e9},{"x":1.087,"y":0.5425e9},{"x":1.087,"y":0.5175e9},{"x":1.087,"y":0.4925e9},
{"x":1.087,"y":0.4675e9},{"x":1.087,"y":0.4425e9},{"x":1.087,"y":0.4175e9},{"x":1.087,"y":0.3925e9},{"x":1.087,"y":0.3675e9},{"x":1.087,"y":0.3425e9},
{"x":1.087,"y":0.3175e9},{"x":1.087,"y":0.2925e9},{"x":1.087,"y":0.2675e9},{"x":1.087,"y":0.2425e9},{"x":1.087,"y":0.2175e9},{"x":1.087,"y":0.1925e9},
{"x":1.087,"y":0.1675e9},{"x":1.087,"y":0.1425e9},{"x":1.087,"y":0.1175e9},{"x":1.087,"y":0.0925e9},{"x":1.087,"y":0.0675e9},{"x":1.087,"y":0.0425e9},
{"x":1.098,"y":3.6e8},{"x":1.098,"y":3.35e8},{"x":1.098,"y":3.1e8},{"x":1.098,"y":2.85e8},{"x":1.098,"y":2.6e8},{"x":1.098,"y":2.35e8},
{"x":1.098,"y":2.1e8},{"x":1.098,"y":1.85e8},{"x":1.098,"y":1.6e8},{"x":1.098,"y":1.35e8},{"x":1.098,"y":1.1e8},{"x":1.098,"y":8.5e7},
{"x":1.098,"y":6e7},{"x":1.098,"y":3.5e7},{"x":1.098,"y":1e7},
{"x":1.108,"y":3e7},{"x":1.115,"y":2e7},{"x":1.125,"y":1.8e7},{"x":1.14,"y":1.5e7},{"x":1.155,"y":1.2e7},{"x":1.17,"y":1e7},{"x":1.19,"y":8e6},
{"x":1.21,"y":6e6},{"x":1.23,"y":5e6},{"x":1.25,"y":5e6},{"x":1.27,"y":5e6},{"x":1.29,"y":4e6},{"x":1.31,"y":5e6},{"x":1.33,"y":4e6},
{"x":1.35,"y":5e6},{"x":1.37,"y":4e6},{"x":1.39,"y":5e6},{"x":1.41,"y":4e6},{"x":1.43,"y":5e6},{"x":1.45,"y":5e6},{"x":1.47,"y":5e6},
{"x":1.49,"y":5e6},{"x":1.51,"y":6e6},{"x":1.53,"y":6e6},{"x":1.55,"y":7e6},{"x":1.565,"y":1e7},
{"x":1.16,"y":6e6},{"x":1.18,"y":5e6},{"x":1.2,"y":3e6},{"x":1.22,"y":2e6},{"x":1.24,"y":2e6},{"x":1.26,"y":2e6},{"x":1.28,"y":2e6},
{"x":1.3,"y":2e6},{"x":1.32,"y":2e6},{"x":1.34,"y":2e6},{"x":1.36,"y":2e6},{"x":1.38,"y":2e6},{"x":1.4,"y":2e6},{"x":1.42,"y":2e6},
{"x":1.44,"y":2e6},{"x":1.46,"y":2e6},{"x":1.48,"y":2e6},{"x":1.5,"y":2e6},{"x":1.52,"y":3e6},{"x":1.54,"y":3e6},{"x":1.56,"y":4e6},
{"x":1.576,"y":3.5e7},{"x":1.585,"y":3.5e7},{"x":1.595,"y":3.5e7},{"x":1.605,"y":3.5e7},{"x":1.615,"y":4e7},{"x":1.635,"y":4e7},
{"x":1.645,"y":4e7},{"x":1.655,"y":4e7},{"x":1.665,"y":4e7},{"x":1.68,"y":3.5e7},{"x":1.688,"y":2.5e7},
{"x":1.576,"y":1.5e7},{"x":1.585,"y":1.5e7},{"x":1.595,"y":1.5e7},{"x":1.605,"y":1.5e7},{"x":1.615,"y":1.5e7},{"x":1.635,"y":1.5e7},
{"x":1.645,"y":1.5e7},{"x":1.655,"y":1.5e7},{"x":1.665,"y":1.5e7},{"x":1.68,"y":1.5e7},{"x":1.688,"y":1e7},
{"x":1.588,"y":1.25e8},{"x":1.588,"y":1.05e8},{"x":1.588,"y":8.5e7},{"x":1.588,"y":6.5e7},{"x":1.588,"y":1.15e8},{"x":1.588,"y":9.5e7},{"x":1.588,"y":7.5e7},
{"x":1.627,"y":1.7e8},{"x":1.627,"y":1.5e8},{"x":1.627,"y":1.3e8},{"x":1.627,"y":1.1e8},{"x":1.627,"y":9e7},{"x":1.627,"y":7e7},{"x":1.627,"y":5e7},
{"x":1.627,"y":1.6e8},{"x":1.627,"y":1.4e8},{"x":1.627,"y":1.2e8},{"x":1.627,"y":1e8},{"x":1.627,"y":8e7},{"x":1.627,"y":6e7},
{"x":1.671,"y":3.7e8},{"x":1.671,"y":3.3e8},{"x":1.671,"y":3.1e8},{"x":1.671,"y":2.9e8},{"x":1.671,"y":2.7e8},{"x":1.671,"y":2.5e8},
{"x":1.671,"y":2.3e8},{"x":1.671,"y":2.1e8},{"x":1.671,"y":1.9e8},{"x":1.671,"y":1.7e8},{"x":1.671,"y":1.5e8},{"x":1.671,"y":1.3e8},
{"x":1.671,"y":1.1e8},{"x":1.671,"y":9e7},{"x":1.671,"y":7e7},{"x":1.671,"y":5e7},
{"x":1.671,"y":3.2e8},{"x":1.671,"y":3.0e8},{"x":1.671,"y":2.8e8},{"x":1.671,"y":2.6e8},{"x":1.671,"y":2.4e8},{"x":1.671,"y":2.2e8},
{"x":1.671,"y":2.0e8},{"x":1.671,"y":1.8e8},{"x":1.671,"y":1.6e8},{"x":1.671,"y":1.4e8},{"x":1.671,"y":1.2e8},{"x":1.671,"y":1.0e8},
{"x":1.664,"y":9e7},{"x":1.664,"y":7e7},{"x":1.664,"y":5e7},{"x":1.678,"y":7e7},{"x":1.678,"y":5e7},
{"x":1.695,"y":1.2e7},{"x":1.71,"y":7e6},{"x":1.73,"y":5e6},{"x":1.75,"y":5e6},{"x":1.77,"y":4e6},{"x":1.79,"y":5e6},{"x":1.81,"y":4e6},
{"x":1.83,"y":5e6},{"x":1.85,"y":4e6},{"x":1.87,"y":5e6},{"x":1.89,"y":5e6},{"x":1.91,"y":4e6},{"x":1.93,"y":5e6},{"x":1.95,"y":5e6},
{"x":1.97,"y":6e6},{"x":1.99,"y":1e7},{"x":2.01,"y":1e7},{"x":2.03,"y":6e6},{"x":2.05,"y":5e6},{"x":2.07,"y":4e6},{"x":2.09,"y":5e6},
{"x":2.11,"y":4e6},{"x":2.13,"y":5e6},{"x":2.15,"y":5e6},{"x":2.17,"y":4e6},
{"x":1.7,"y":4e6},{"x":1.72,"y":3e6},{"x":1.74,"y":2e6},{"x":1.76,"y":2e6},{"x":1.78,"y":2e6},{"x":1.8,"y":2e6},{"x":1.82,"y":2e6},
{"x":1.84,"y":2e6},{"x":1.86,"y":2e6},{"x":1.88,"y":2e6},{"x":1.9,"y":2e6},{"x":1.92,"y":2e6},{"x":1.94,"y":2e6},{"x":1.96,"y":3e6},
{"x":1.98,"y":4e6},{"x":2.0,"y":5e6},{"x":2.02,"y":4e6},{"x":2.04,"y":2e6},{"x":2.06,"y":2e6},{"x":2.08,"y":2e6},{"x":2.1,"y":2e6},
{"x":2.12,"y":2e6},{"x":2.14,"y":2e6},{"x":2.16,"y":2e6}
]},
"mark":{"type":"point","shape":"triangle-up","filled":true,"size":40,"opacity":1},
"encoding":{
"x":{"field":"x","type":"quantitative","scale":{"domain":[-1.5,2.5],"nice":false,"zero":false},
"axis":{"title":null,"values":[-1.5,-1,-0.5,0,0.5,1,1.5,2,2.5],"labelExpr":"'' + datum.value","grid":false,"domainColor":"#868686","tickColor":"#868686","tickSize":5,"labelFont":"DejaVu Sans","labelFontSize":14,"labelColor":"#1a1a1a","labelPadding":7,"labelFlush":false,"labelOverlap":false}},
"y":{"field":"y","type":"quantitative","scale":{"domain":[0,3000000000],"nice":false},
"axis":{"title":null,"values":[0,500000000,1000000000,1500000000,2000000000,2500000000,3000000000],"labelExpr":"replace(format(datum.value,'.2e'),'e+','E+0')","offset":-412.5,"ticks":false,"grid":true,"gridColor":"#a6a6a6","domainColor":"#868686","labelFont":"DejaVu Sans","labelFontSize":15,"labelColor":"#1a1a1a","labelPadding":4,"labelFlush":false,"labelOverlap":false}},
"color":{"datum":"Series1","scale":{"range":["#4F81BD"]},
"legend":{"title":null,"orient":"none","legendX":1113,"legendY":350,"symbolType":"triangle-up","symbolSize":24,"labelFont":"DejaVu Sans","labelFontSize":15,"labelColor":"#1a1a1a","symbolOpacity":1}}
}
},
{
"data":{"values":[{}]},
"mark":{"type":"point","shape":"M-1,0C-1,-0.3185,-0.5523,-0.5766,0,-0.5766C0.5523,-0.5766,1,-0.3185,1,0C1,0.3185,0.5523,0.5766,0,0.5766C-0.5523,0.5766,-1,0.3185,-1,0Z","size":279841,"filled":false,"stroke":"#ff0000","strokeWidth":5,"strokeDash":[17,8],"opacity":1},
"encoding":{"x":{"datum":0.5127,"type":"quantitative"},"y":{"datum":2351500000,"type":"quantitative"}}
},
{
"data":{"values":[{}]},
"mark":{"type":"text","text":["Part of those value are","not right due to the","numerical error"],"font":"DejaVu Sans","fontSize":25.5,"lineHeight":38.5,"align":"left","baseline":"alphabetic","color":"#000000"},
"encoding":{"x":{"datum":1.544,"type":"quantitative"},"y":{"datum":2870000000,"type":"quantitative"}}
}
]
}
